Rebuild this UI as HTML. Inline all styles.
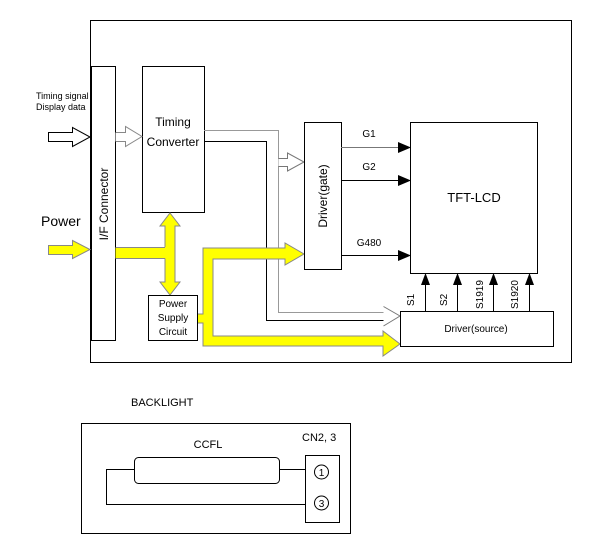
<!DOCTYPE html>
<html><head><style>body{margin:0;background:#fff}svg{display:block}</style></head><body>
<svg width="603" height="552" viewBox="0 0 603 552" xmlns="http://www.w3.org/2000/svg" font-family="Liberation Sans, sans-serif">
<rect width="603" height="552" fill="#fff"/>
<rect x="90.5" y="20.5" width="481" height="342" fill="none" stroke="#000"/>
<!-- I/F connector -->
<rect x="91.5" y="66.5" width="24" height="274" fill="#fff" stroke="#000"/>
<text transform="translate(108,204) rotate(-90)" text-anchor="middle" font-size="12">I/F Connector</text>
<!-- Timing converter -->
<rect x="142.5" y="66.5" width="62" height="146" fill="#fff" stroke="#000"/>
<text x="173" y="126" text-anchor="middle" font-size="12">Timing</text>
<text x="173" y="146" text-anchor="middle" font-size="12">Converter</text>
<text x="36" y="99" font-size="9">Timing signal</text>
<text x="36" y="110" font-size="9">Display data</text>
<text x="41" y="226" font-size="14">Power</text>
<!-- hollow arrows -->
<path d="M48.5,132.5 H72.5 V127.5 L90,137 L72.5,146.5 V141.5 H48.5 Z" fill="#fff" stroke="#000"/>
<path d="M115.5,132.5 H125.5 V126.5 L142,136.5 L125.5,146.5 V141.5 H115.5" fill="#fff" stroke="#888"/>
<!-- gray/black signal lines -->
<path d="M204,130.5 H278.5 V312.5 H384" fill="none" stroke="#999"/>
<path d="M204,141.5 H266.5 V320.5 H384" fill="none" stroke="#000"/>
<path d="M278.5,158.5 H287.5 V153 L304,162 L287.5,171 V166.5 H278.5" fill="#fff" stroke="#777"/>
<path d="M383.5,306.5 L400,316 L383.5,326" fill="#fff" stroke="#777"/>
<!-- yellow power -->
<g fill="#ffff00" stroke="#888" stroke-width="1">
<path d="M48.5,245.5 H72.5 V240.5 L90,249.5 L72.5,258.5 V254.5 H48.5 Z"/>
<path d="M115.5,247.5 H165.5 V258.5 H115.5 Z" stroke="none"/>
<path d="M170,213 L180,226 H175 V282 H180 L170,295 L160,282 H165 V226 H160 Z" stroke="#888"/>
<path d="M197,314 H203 V248 H285 V243 L304,254 L285,265 V259 H213 V336 H383 V331 L400,344 L383,356 V346 H203 V323 H197 Z" stroke="#888"/>
</g>
<rect x="115.5" y="247" width="50" height="11.5" fill="#ffff00"/>
<line x1="115.5" y1="247.5" x2="165" y2="247.5" stroke="#888"/>
<line x1="115.5" y1="258.5" x2="165" y2="258.5" stroke="#888"/>
<!-- Power supply -->
<rect x="148.5" y="295.5" width="49" height="45" fill="#fff" stroke="#000"/>
<text x="173" y="307" text-anchor="middle" font-size="10">Power</text>
<text x="173" y="321" text-anchor="middle" font-size="10">Supply</text>
<text x="173" y="335" text-anchor="middle" font-size="10">Circuit</text>
<!-- Driver gate -->
<rect x="304.5" y="122.5" width="37" height="147" fill="#fff" stroke="#000"/>
<text transform="translate(327,196) rotate(-90)" text-anchor="middle" font-size="12">Driver(gate)</text>
<!-- TFT -->
<rect x="410.5" y="122.5" width="127" height="151" fill="#fff" stroke="#000"/>
<text x="474" y="202" text-anchor="middle" font-size="13">TFT-LCD</text>
<g stroke="#000"><line x1="341" y1="147.5" x2="400" y2="147.5" stroke="#777"/><line x1="341" y1="180.5" x2="400" y2="180.5"/><line x1="341" y1="255.5" x2="400" y2="255.5"/></g>
<g fill="#000"><path d="M398,142 L411,147.5 L398,153Z"/><path d="M398,175 L411,180.5 L398,186Z"/><path d="M398,250 L411,255.5 L398,261Z"/></g>
<text x="369" y="137" text-anchor="middle" font-size="10">G1</text>
<text x="369" y="170" text-anchor="middle" font-size="10">G2</text>
<text x="369" y="246" text-anchor="middle" font-size="10">G480</text>
<!-- Driver source -->
<rect x="400.5" y="311.5" width="153" height="35" fill="#fff" stroke="#000"/>
<text x="476" y="332" text-anchor="middle" font-size="10">Driver(source)</text>
<g stroke="#000"><line x1="425.5" y1="311" x2="425.5" y2="280"/><line x1="457.5" y1="311" x2="457.5" y2="280"/><line x1="493.5" y1="311" x2="493.5" y2="280"/><line x1="529.5" y1="311" x2="529.5" y2="280"/></g>
<g fill="#000"><path d="M421,285 L425.5,273 L430,285Z"/><path d="M453,285 L457.5,273 L462,285Z"/><path d="M489,285 L493.5,273 L498,285Z"/><path d="M525,285 L529.5,273 L534,285Z"/></g>
<g font-size="10"><text transform="translate(414,306) rotate(-90)">S1</text><text transform="translate(447,306) rotate(-90)">S2</text><text transform="translate(483,309) rotate(-90)">S1919</text><text transform="translate(518,309) rotate(-90)">S1920</text></g>
<!-- Backlight -->
<text x="131" y="406" font-size="11">BACKLIGHT</text>
<rect x="81.5" y="423.5" width="269" height="110" fill="none" stroke="#000"/>
<text x="302" y="441" font-size="11">CN2, 3</text>
<text x="208" y="448" text-anchor="middle" font-size="11">CCFL</text>
<rect x="305.5" y="455.5" width="34" height="67" fill="none" stroke="#000"/>
<rect x="134.5" y="457.5" width="145" height="26" rx="4" fill="none" stroke="#000"/>
<path d="M279,469.5 H305 M134,469.5 H106.5 V504.5 H305" fill="none" stroke="#000"/>
<circle cx="321.5" cy="472" r="7" fill="none" stroke="#000"/>
<circle cx="321.5" cy="503" r="7" fill="none" stroke="#000"/>
<text x="321.5" y="476" text-anchor="middle" font-size="10">1</text>
<text x="321.5" y="507" text-anchor="middle" font-size="10">3</text>
</svg>
</body></html>
